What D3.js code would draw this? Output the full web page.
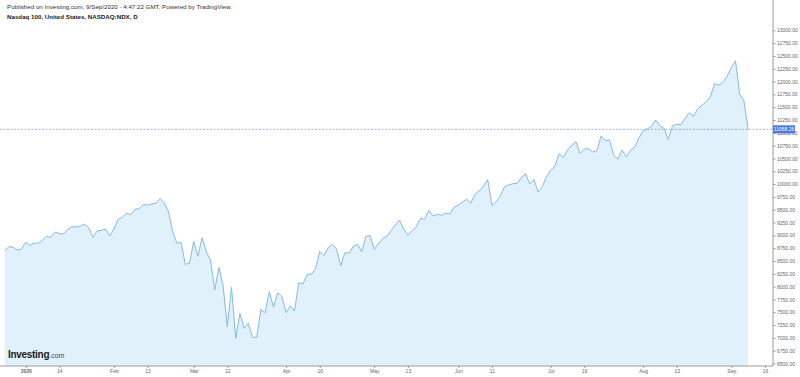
<!DOCTYPE html>
<html>
<head>
<meta charset="utf-8">
<script src="https://cdn.jsdelivr.net/npm/d3@7"></script>
<style>
  html, body { margin: 0; padding: 0; background: #fff; }
  svg { display: block; font-family: "Liberation Sans", Arial, sans-serif; }
</style>
</head>
<body>
<svg width="800" height="377"></svg>
<script>
// Nasdaq 100 daily closes, 24 Dec 2019 .. 8 Sep 2020 (one value per trading day)
const closes = [
  8700, 8779, 8767, 8714, 8734, 8864, 8806, 8845, 8851, 8909,
  8981, 8962, 9065, 9032, 9032, 9118, 9169, 9163, 9182, 9216,
  9149, 8962, 9085, 9098, 9124, 8987, 9118, 9313, 9352, 9430,
  9403, 9508, 9520, 9598, 9592, 9612, 9625, 9715, 9631, 9461,
  9071, 8845, 8864, 8435, 8455, 8884, 8591, 8954, 8675, 8519,
  7934, 8377, 8012, 7218, 7987, 6992, 7479, 7187, 7284, 7011,
  7011, 7557, 7491, 7901, 7596, 7881, 7803, 7491, 7628, 7524,
  8076, 8051, 8232, 8246, 8338, 8689, 8603, 8753, 8825, 8734,
  8408, 8661, 8650, 8786, 8825, 8681, 8981, 8993, 8728, 8837,
  8935, 8987, 9091, 9196, 9299, 9124, 9001, 9091, 9163, 9333,
  9313, 9489, 9377, 9411, 9391, 9436, 9416, 9547, 9592, 9651,
  9703, 9631, 9807, 9871, 9963, 10086, 9586, 9656, 9768, 9949,
  9982, 10008, 10015, 10125, 10203, 10002, 10093, 9846, 9949, 10144,
  10275, 10347, 10593, 10523, 10665, 10757, 10827, 10601, 10684, 10690,
  10626, 10651, 10938, 10846, 10860, 10567, 10484, 10665, 10528, 10665,
  10718, 10899, 11041, 11080, 11120, 11250, 11139, 11088, 10874, 11139,
  11166, 11159, 11283, 11393, 11322, 11465, 11537, 11607, 11699, 11958,
  11927, 11986, 12103, 12270, 12407, 11757, 11627, 11068.26
];

// x-axis labels and the trading-day slot they sit on
const tickLabels = ["2020", "14", "Feb", "13", "Mar", "12", "Apr", "16", "May",
                    "13", "Jun", "11", "Jul", "16", "Aug", "13", "Sep", "16"];
const tickSlots  = [5, 13, 26, 34, 45, 53, 67, 75, 88,
                    96, 108, 116, 130, 138, 152, 160, 173, 181];

const yTicks = d3.range(6500, 13001, 250);

const svg = d3.select('svg');
const plotRight = 773;
const plotBottom = 366;

const xScale = d3.scaleLinear().domain([0, closes.length - 1]).range([4.7, 748.1]);
const yScale = d3.scaleLinear().domain([6500, 13000]).range([363.5, 30.3]);

// header texts
svg.append('text')
  .attr('x', 7).attr('y', 9)
  .attr('font-size', 6.2).attr('fill', '#333')
  .text('Published on Investing.com, 9/Sep/2020 - 4:47:22 GMT, Powered by TradingView.');
svg.append('text')
  .attr('x', 7).attr('y', 19)
  .attr('font-size', 6.2).attr('font-weight', 'bold').attr('fill', '#222')
  .text('Nasdaq 100, United States, NASDAQ:NDX, D');

// area + line
const area = d3.area()
  .x((d, i) => xScale(i))
  .y0(plotBottom)
  .y1(d => yScale(d));
const line = d3.line()
  .x((d, i) => xScale(i))
  .y(d => yScale(d));

svg.append('path')
  .datum(closes)
  .attr('d', area)
  .attr('fill', '#e1f1fb');

svg.append('path')
  .datum(closes)
  .attr('d', line)
  .attr('fill', 'none')
  .attr('stroke', '#84b9ec')
  .attr('stroke-width', 1);

// last price dashed line
const last = closes[closes.length - 1];
svg.append('line')
  .attr('x1', 0).attr('x2', plotRight)
  .attr('y1', yScale(last)).attr('y2', yScale(last))
  .attr('stroke', '#8e9ed6')
  .attr('stroke-width', 0.8)
  .attr('stroke-dasharray', '2,1.5');

// watermark
const logo = svg.append('text')
  .attr('x', 8).attr('y', 358)
  .attr('fill', '#1c1c1c');
logo.append('tspan').attr('font-size', 10).attr('font-weight', 'bold').attr('letter-spacing', -0.3).text('Investing');
logo.append('tspan').attr('font-size', 7).attr('fill', '#444').text('.com');

// y axis
const yAxis = d3.axisRight(yScale)
  .tickValues(yTicks)
  .tickSize(2.5)
  .tickPadding(1.5)
  .tickFormat(d3.format('.2f'));
const yG = svg.append('g')
  .attr('transform', `translate(${plotRight},0)`)
  .call(yAxis);
yG.select('.domain').attr('stroke', '#9a9a9a').attr('d', `M0,0V${plotBottom}`);
yG.selectAll('.tick line').attr('stroke', '#9a9a9a');
yG.selectAll('.tick text').attr('font-size', 5).attr('fill', '#666')
  .attr('font-family', '"Liberation Sans", Arial, sans-serif');

// x axis
const xAxis = d3.axisBottom(xScale)
  .tickValues(tickSlots)
  .tickSize(2)
  .tickPadding(1.5)
  .tickFormat((d, i) => tickLabels[i]);
const xG = svg.append('g')
  .attr('transform', `translate(0,${plotBottom})`)
  .call(xAxis);
xG.select('.domain').attr('stroke', '#9a9a9a').attr('d', `M0,0H${plotRight}`);
xG.selectAll('.tick line').attr('stroke', '#9a9a9a');
xG.selectAll('.tick text').attr('font-size', 5).attr('fill', '#666')
  .attr('font-family', '"Liberation Sans", Arial, sans-serif')
  .attr('font-weight', (d, i) => i === 0 ? 'bold' : null);

// last price tag on the axis
const tagY = yScale(last);
svg.append('rect')
  .attr('x', plotRight).attr('y', tagY - 4)
  .attr('width', 22).attr('height', 8)
  .attr('fill', '#4a78dc');
svg.append('text')
  .attr('x', plotRight + 11).attr('y', tagY + 1.8)
  .attr('text-anchor', 'middle')
  .attr('font-size', 5).attr('fill', '#fff')
  .text(d3.format('.2f')(last));
</script>
</body>
</html>
